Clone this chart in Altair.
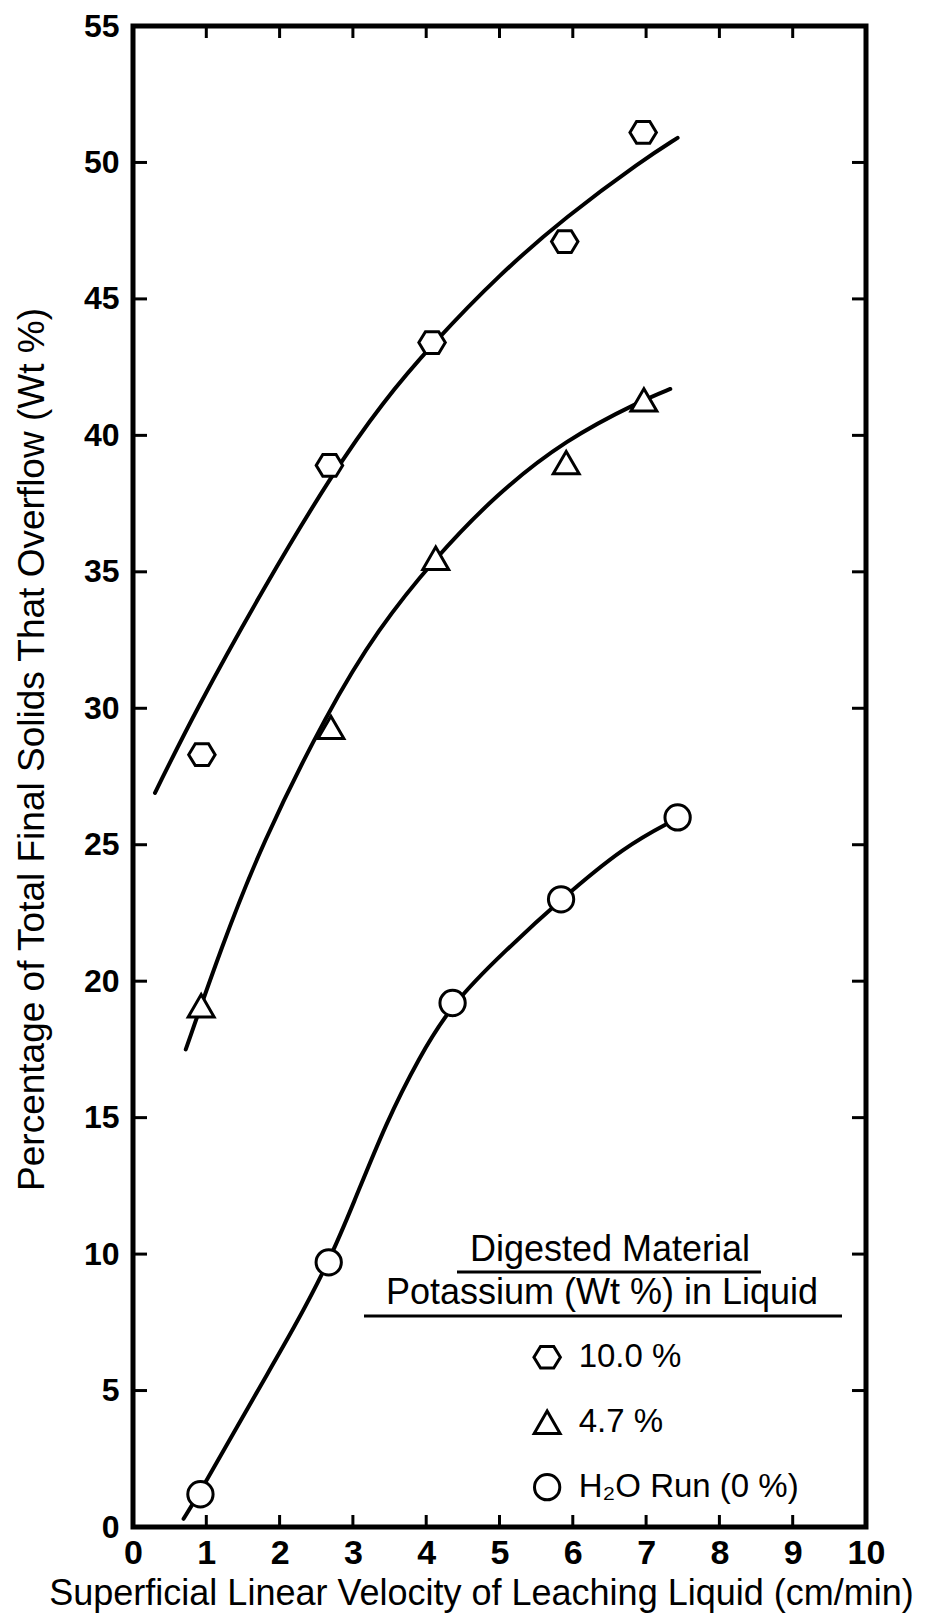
import altair as alt
import pandas as pd

# ---- data ----
series = ["10.0 %", "4.7 %", "H₂O Run (0 %)"]

hex_x = [0.94, 2.68, 4.08, 5.89, 6.96]
hex_y = [28.3, 38.9, 43.4, 47.1, 51.1]
tri_x = [0.93, 2.70, 4.13, 5.91, 6.97]
tri_y = [19.1, 29.3, 35.5, 39.0, 41.3]
cir_x = [0.92, 2.67, 4.36, 5.84, 7.43]
cir_y = [1.2, 9.7, 19.2, 23.0, 26.0]

# hand-drawn fitted curves
up_x = [0.30, 0.85, 1.8, 2.72, 3.4, 4.1, 5.0, 5.9, 6.96, 7.43]
up_y = [26.9, 29.9, 34.5, 38.6, 41.2, 43.4, 45.9, 48.0, 50.1, 50.9]
mid_x = [0.72, 1.2, 1.75, 2.66, 3.34, 4.12, 4.94, 5.9, 6.96, 7.33]
mid_y = [17.5, 21.2, 25.0, 29.9, 32.9, 35.5, 37.8, 39.85, 41.3, 41.7]
low_x = [0.69, 0.92, 1.7, 2.2, 2.67, 3.0, 3.45, 3.9, 4.36, 5.07, 5.84, 6.71, 7.38]
low_y = [0.3, 1.3, 5.0, 7.3, 9.7, 11.8, 14.8, 17.2, 19.2, 21.1, 23.0, 24.95, 25.9]

x_ticks = [0, 1, 2, 3, 4, 5, 6, 7, 8, 9, 10]
y_ticks = [0, 5, 10, 15, 20, 25, 30, 35, 40, 45, 50, 55]
x_inner = [1, 2, 3, 4, 5, 6, 7, 8, 9]
y_inner = [5, 10, 15, 20, 25, 30, 35, 40, 45, 50]

# legend placement (in data units) and heading
leg_sym_x = 5.65
leg_txt_x = 6.08
leg_row_y = [6.22, 3.84, 1.46]
legend_head1 = "Digested Material"
legend_head2 = "Potassium (Wt %) in Liquid"
x_title = "Superficial Linear Velocity of Leaching Liquid (cm/min)"
y_title = "Percentage of Total Final Solids That Overflow (Wt %)"

# ---- tables ----
pts = pd.DataFrame({
    "x": hex_x + tri_x + cir_x,
    "y": hex_y + tri_y + cir_y,
    "s": [series[0]] * len(hex_x) + [series[1]] * len(tri_x) + [series[2]] * len(cir_x),
})
curves = pd.DataFrame({
    "x": up_x + mid_x + low_x,
    "y": up_y + mid_y + low_y,
    "s": [series[0]] * len(up_x) + [series[1]] * len(mid_x) + [series[2]] * len(low_x),
})
leg = pd.DataFrame({
    "x": [leg_sym_x] * 3,
    "tx": [leg_txt_x] * 3,
    "y": leg_row_y,
    "s": series,
})
xt = pd.DataFrame({"v": x_inner})
yt = pd.DataFrame({"v": y_inner})

W, H = 733, 1501
FONT = "Liberation Sans, DejaVu Sans, sans-serif"
HEX = "M-1,0L-0.5,-0.82L0.5,-0.82L1,0L0.5,0.82L-0.5,0.82Z"

xs = alt.Scale(domain=[0, 10], nice=False, zero=True)
ys = alt.Scale(domain=[0, 55], nice=False, zero=True)
shape_scale = alt.Scale(domain=series, range=[HEX, "triangle-up", "circle"])
size_scale = alt.Scale(domain=series, range=[700, 640, 540])

X = alt.X("x:Q", scale=xs, axis=alt.Axis(
    values=x_ticks, title=x_title, ticks=False, domain=False, grid=False, format="d",
    labelOverlap=False, labelFlush=False,
    labelFont=FONT, labelFontSize=34, labelFontWeight="bold", labelColor="black",
    labelPadding=9, titleFont=FONT, titleFontSize=36, titleFontWeight="normal",
    titleColor="black", titleX=348, titleY=66, titleBaseline="middle", titleAlign="center"))
Y = alt.Y("y:Q", scale=ys, axis=alt.Axis(
    values=y_ticks, title=y_title, ticks=False, domain=False, grid=False, format="d",
    labelOverlap=False, labelFlush=False,
    labelFont=FONT, labelFontSize=32, labelFontWeight="bold", labelColor="black",
    labelPadding=14, titleFont=FONT, titleFontSize=37, titleFontWeight="normal",
    titleColor="black", titleX=-101, titleY=723, titleBaseline="middle",
    titleAlign="center", titleAngle=270))

lines = alt.Chart(curves).mark_line(
    interpolate="basis", color="black", strokeWidth=4, strokeCap="round"
).encode(x=X, y=Y, detail="s:N")

points = alt.Chart(pts).mark_point(
    fill="white", fillOpacity=1, stroke="black", strokeWidth=3, opacity=1
).encode(
    x=alt.X("x:Q", scale=xs),
    y=alt.Y("y:Q", scale=ys),
    shape=alt.Shape("s:N", scale=shape_scale, legend=None),
    size=alt.Size("s:N", scale=size_scale, legend=None),
)

leg_pts = alt.Chart(leg).mark_point(
    fill="white", fillOpacity=1, stroke="black", strokeWidth=3, opacity=1
).encode(
    x=alt.X("x:Q", scale=xs),
    y=alt.Y("y:Q", scale=ys),
    shape=alt.Shape("s:N", scale=shape_scale, legend=None),
    size=alt.Size("s:N", scale=size_scale, legend=None),
)
leg_txt = alt.Chart(leg).mark_text(
    font=FONT, fontSize=33, color="black", align="left", baseline="middle"
).encode(x=alt.X("tx:Q", scale=xs), y=alt.Y("y:Q", scale=ys), text="s:N")


def tick_rules(df, orient):
    r = alt.Chart(df).mark_rule(color="black", strokeWidth=3)
    if orient == "bottom":
        return r.encode(x=alt.X("v:Q", scale=xs), y=alt.value(H), y2=alt.value(H - 12))
    if orient == "top":
        return r.encode(x=alt.X("v:Q", scale=xs), y=alt.value(0), y2=alt.value(12))
    if orient == "left":
        return r.encode(y=alt.Y("v:Q", scale=ys), x=alt.value(0), x2=alt.value(14))
    return r.encode(y=alt.Y("v:Q", scale=ys), x=alt.value(W), x2=alt.value(W - 14))


head = pd.DataFrame({"t": [legend_head1, legend_head2]})
head1 = alt.Chart(head.iloc[[0]]).mark_text(
    font=FONT, fontSize=36, color="black", align="center", baseline="middle"
).encode(text="t:N", x=alt.value(477), y=alt.value(1224))
head2 = alt.Chart(head.iloc[[1]]).mark_text(
    font=FONT, fontSize=36, color="black", align="center", baseline="middle"
).encode(text="t:N", x=alt.value(469), y=alt.value(1267))
ul1 = alt.Chart(head.iloc[[0]]).mark_rule(color="black", strokeWidth=3).encode(
    x=alt.value(324), x2=alt.value(628), y=alt.value(1246))
ul2 = alt.Chart(head.iloc[[1]]).mark_rule(color="black", strokeWidth=3).encode(
    x=alt.value(231), x2=alt.value(709), y=alt.value(1290))

chart = alt.layer(
    lines, points, leg_pts, leg_txt,
    tick_rules(xt, "bottom"), tick_rules(xt, "top"),
    tick_rules(yt, "left"), tick_rules(yt, "right"),
    head1, head2, ul1, ul2,
).properties(
    width=W, height=H,
    background="white",
    autosize=alt.AutoSizeParams(type="none"),
    padding={"left": 125, "top": 18, "right": 60, "bottom": 92},
).configure_view(
    stroke="black", strokeWidth=5
)

chart.save("out.html", embed_options={"renderer": "svg", "actions": False})
